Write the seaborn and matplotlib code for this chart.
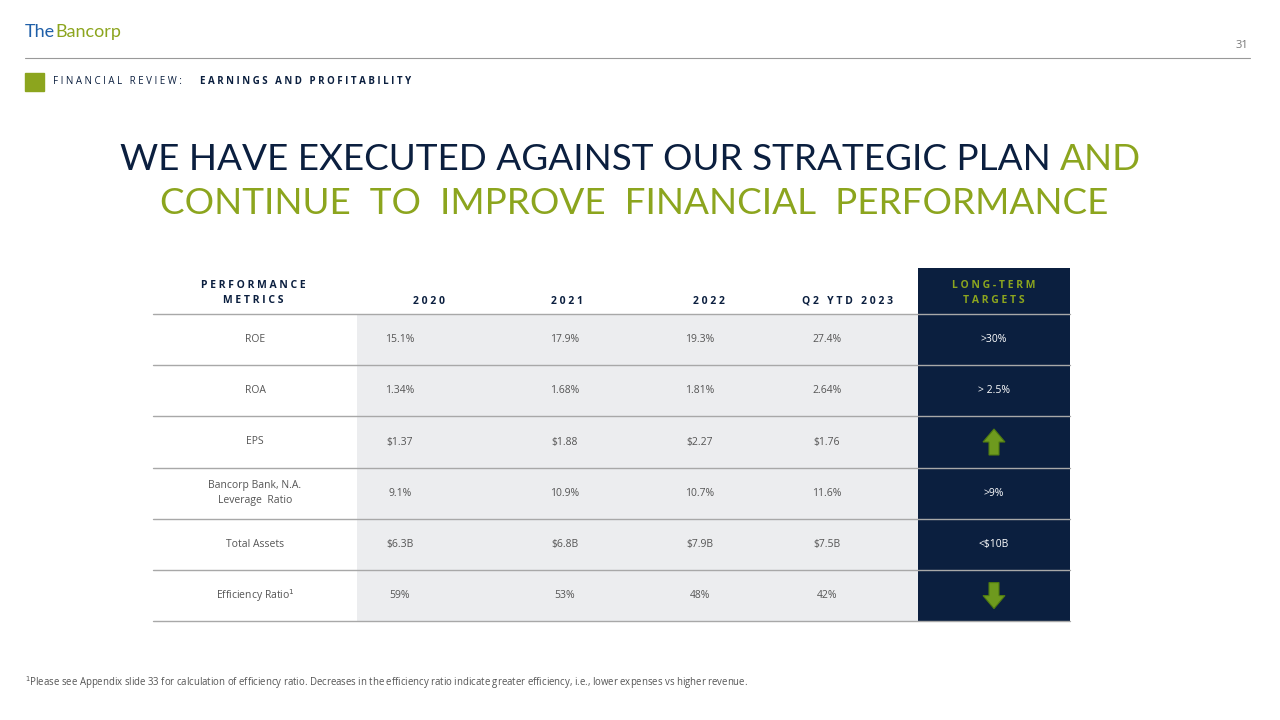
import seaborn as sns
import matplotlib.pyplot as plt
from matplotlib.patches import Polygon

# Table content
metrics = ["ROE", "ROA", "EPS", "Bancorp Bank, N.A.\nLeverage  Ratio", "Total Assets", "Efficiency Ratio$^1$"]
years = ["2020", "2021", "2022", "Q2 YTD 2023"]
vals_2020 = ["15.1%", "1.34%", "$1.37", "9.1%", "$6.3B", "59%"]
vals_2021 = ["17.9%", "1.68%", "$1.88", "10.9%", "$6.8B", "53%"]
vals_2022 = ["19.3%", "1.81%", "$2.27", "10.7%", "$7.9B", "48%"]
vals_2023 = ["27.4%", "2.64%", "$1.76", "11.6%", "$7.5B", "42%"]
targets = [">30%", "> 2.5%", "up", ">9%", "<$10B", "down"]

navy = "#0B1F3F"
green = "#8CA51E"
grey_txt = "#555555"

sns.set_theme(style="white")
plt.rcParams['font.family'] = ['Open Sans', 'DejaVu Sans']

fig = plt.figure(figsize=(12.8, 7.2), dpi=100)
ax = fig.add_axes([0, 0, 1, 1])
ax.set_xlim(0, 1280)
ax.set_ylim(720, 0)
ax.axis("off")

# Header
ax.text(25, 32, "The", color="#1F5FA8", fontsize=13, va="center", family="Lato")
ax.text(55, 32, "Bancorp", color=green, fontsize=13, va="center", family="Lato")
ax.plot([25, 1250], [58, 58], color="#999999", lw=0.8)
ax.text(1248, 45, "31", color="#777777", fontsize=8, ha="right", va="center")
ax.add_patch(plt.Rectangle((25, 73), 19, 18, color=green))
ax.text(53, 82, "F I N A N C I A L   R E V I E W :", fontsize=7, color=navy, va="center")
ax.text(200, 82, "E A R N I N G S   A N D   P R O F I T A B I L I T Y", fontsize=7,
        color=navy, va="center", fontweight="bold")

# Title
t1 = ax.text(120, 160, "WE HAVE EXECUTED AGAINST OUR STRATEGIC PLAN ", fontsize=26.6, color=navy,
             va="center", family="Lato")
fig.canvas.draw()
bb = t1.get_window_extent()
x_end = ax.transData.inverted().transform((bb.x1, bb.y0))[0]
ax.text(x_end, 160, "AND", fontsize=26.6, color=green, va="center", family="Lato")
ax.text(160, 204, "CONTINUE  TO  IMPROVE  FINANCIAL  PERFORMANCE", fontsize=26.6, color=green,
        va="center", family="Lato")

# Table layout
col_centers = [400, 565, 700, 827]
head_centers = [429, 567, 709, 847]
row_top = 314
row_h = 51.2
n = len(metrics)
ax.add_patch(plt.Rectangle((357, row_top), 918 - 357, row_h * n, color="#ECEDEF", lw=0))
ax.add_patch(plt.Rectangle((918, 268), 1070 - 918, row_top - 268 + row_h * n, color=navy, lw=0))
for i in range(n + 1):
    ax.plot([153, 1070], [row_top + i * row_h] * 2, color="#A8A8A8", lw=1)

ax.text(253, 293, "P E R F O R M A N C E\nM E T R I C S", fontsize=7.5, fontweight="bold",
        color=navy, ha="center", va="center", linespacing=1.6)
for x, y in zip(head_centers, years):
    ax.text(x, 301, " ".join(y), fontsize=7.5, fontweight="bold",
            color=navy, ha="center", va="center")
ax.text(994, 293, "L O N G - T E R M\nT A R G E T S", fontsize=7.5, fontweight="bold",
        color=green, ha="center", va="center", linespacing=1.6)

columns = [vals_2020, vals_2021, vals_2022, vals_2023]
for i in range(n):
    yc = row_top + (i + 0.5) * row_h
    ax.text(255, yc, metrics[i], fontsize=7.5, color=grey_txt, ha="center", va="center", linespacing=1.5)
    for x, col in zip(col_centers, columns):
        ax.text(x, yc, col[i], fontsize=7.5, color=grey_txt, ha="center", va="center")
    t = targets[i]
    if t in ("up", "down"):
        s = -1 if t == "up" else 1
        pts = [(994 - 5, yc - s * 13), (994 + 5, yc - s * 13), (994 + 5, yc), (994 + 11, yc),
               (994, yc + s * 13), (994 - 11, yc), (994 - 5, yc)]
        ax.add_patch(Polygon(pts, closed=True, facecolor="#6E9A1E", edgecolor="#4E7A10", lw=0.8))
    else:
        ax.text(994, yc, t, fontsize=7.5, color="white", ha="center", va="center")

ax.text(25, 683, "$^1$Please see Appendix slide 33 for calculation of efficiency ratio. Decreases in the efficiency "
        "ratio indicate greater efficiency, i.e., lower expenses vs higher revenue.",
        fontsize=6.9, color="#555555", va="center")

fig.savefig("out.png", dpi=100)
